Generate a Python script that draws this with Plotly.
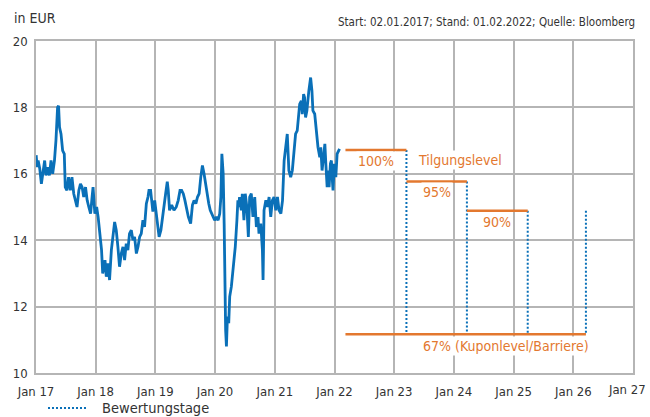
import plotly.graph_objects as go
import pandas as pd

# ---- price series ----
dates = [
"2017-01-02","2017-01-08","2017-01-14","2017-01-24","2017-02-03","2017-02-13","2017-02-23","2017-03-03",
"2017-03-13","2017-03-24","2017-04-03","2017-04-13","2017-04-24","2017-05-03","2017-05-13","2017-05-19",
"2017-05-25","2017-06-03","2017-06-13","2017-06-23","2017-06-29","2017-07-09","2017-07-19","2017-07-30",
"2017-08-09","2017-08-20","2017-08-30","2017-09-09","2017-09-20","2017-09-30","2017-10-10","2017-10-20",
"2017-10-31","2017-11-10","2017-11-20","2017-12-01","2017-12-10","2017-12-16","2017-12-27","2018-01-07",
"2018-01-16","2018-01-27","2018-02-06","2018-02-13","2018-02-27","2018-03-07","2018-03-17","2018-03-27",
"2018-04-07","2018-04-27","2018-05-07","2018-05-17","2018-05-27","2018-06-07","2018-06-17","2018-06-27",
"2018-07-07","2018-07-17","2018-07-27","2018-08-07","2018-08-17","2018-08-27","2018-09-07","2018-09-17",
"2018-09-27","2018-10-07","2018-10-17","2018-10-27","2018-11-07","2018-11-17","2018-11-23","2018-12-03",
"2018-12-09","2018-12-17","2018-12-28","2019-01-08","2019-01-18","2019-01-24","2019-02-04","2019-02-14",
"2019-02-24","2019-03-05","2019-03-15","2019-03-21","2019-03-29","2019-04-11","2019-04-25","2019-05-09",
"2019-05-21","2019-06-01","2019-06-11","2019-06-21","2019-07-01","2019-07-11","2019-07-22","2019-08-05",
"2019-08-16","2019-08-26","2019-09-06","2019-09-16","2019-09-26","2019-10-06","2019-10-16","2019-10-26",
"2019-11-06","2019-11-15","2019-11-24","2019-12-03","2019-12-12","2019-12-21","2019-12-30","2020-01-10",
"2020-01-20","2020-01-30","2020-02-06","2020-02-12","2020-02-20","2020-02-26","2020-03-02","2020-03-06",
"2020-03-11","2020-03-17","2020-03-25","2020-03-31","2020-04-10","2020-04-20","2020-04-26","2020-05-04",
"2020-05-14","2020-05-20","2020-05-26","2020-05-30","2020-06-10","2020-06-16","2020-06-26","2020-07-04",
"2020-07-14","2020-07-23","2020-07-31","2020-08-10","2020-08-20","2020-08-31","2020-09-10","2020-09-20",
"2020-09-26","2020-10-07","2020-10-17","2020-10-21","2020-10-27","2020-11-07","2020-11-17","2020-11-27",
"2020-12-07","2020-12-17","2020-12-27","2021-01-07","2021-01-17","2021-01-27","2021-02-07","2021-02-17",
"2021-02-27","2021-03-08","2021-03-18","2021-03-28","2021-04-08","2021-04-18","2021-04-28","2021-05-08",
"2021-05-18","2021-05-28","2021-06-02","2021-06-12","2021-06-18","2021-06-26","2021-07-02","2021-07-08",
"2021-07-16","2021-07-28","2021-08-08","2021-08-16","2021-08-22","2021-09-02","2021-09-13","2021-09-22",
"2021-10-03","2021-10-09","2021-10-17","2021-10-27","2021-11-03","2021-11-09","2021-11-17","2021-11-23",
"2021-11-29","2021-12-07","2021-12-13","2021-12-19","2021-12-23","2021-12-31","2022-01-09","2022-01-17",
"2022-02-01",
]
prices = [
16.56,16.2,16.4,16.15,15.7,16.1,16.4,15.95,
16.2,15.95,16.4,16.0,16.4,17.0,18.0,18.05,
17.4,17.2,16.7,16.6,15.6,15.5,15.9,15.5,
15.9,15.4,15.2,15.0,15.5,15.7,15.6,15.3,
15.6,15.2,15.0,14.8,15.3,15.6,14.8,15.0,
14.7,14.2,13.7,13.0,13.4,12.9,13.3,12.8,
13.7,14.55,14.3,13.8,13.2,13.6,13.8,13.4,
13.9,13.7,14.2,14.3,14.0,14.1,13.6,13.8,
14.1,14.2,14.6,14.4,15.1,15.3,15.5,15.5,
15.27,14.86,15.2,14.8,14.4,14.1,14.3,14.7,
15.2,15.4,15.76,15.5,14.9,15.06,14.9,15.0,
15.2,15.5,15.5,15.4,15.2,14.9,14.7,14.5,
15.06,15.2,15.1,15.3,15.4,15.9,16.25,16.0,
15.6,15.3,15.1,14.9,14.8,14.65,14.6,14.7,
14.6,14.8,15.3,16.6,16.0,14.5,12.5,11.3,
10.8,11.7,11.5,12.3,12.6,13.1,13.6,13.8,
14.6,15.2,15.0,15.3,14.9,15.4,14.6,15.4,
15.0,14.1,15.3,15.4,14.7,15.3,14.4,14.7,
14.2,14.5,13.7,12.8,14.9,15.2,15.0,15.3,
14.7,15.2,15.3,14.9,15.3,14.9,14.8,15.2,
16.4,16.8,17.2,16.1,15.9,16.1,16.7,17.2,
17.3,17.9,18.1,18.2,17.8,18.4,18.3,17.7,
17.9,18.5,18.9,18.5,17.9,17.8,17.1,16.8,
16.5,16.8,16.1,16.7,16.9,16.3,15.6,16.1,
15.6,16.3,16.4,15.8,15.5,16.3,15.9,16.6,
16.75,
]

# ---- product structure ----
start_date = "2022-03-09"
obs_dates = ["2023-03-17", "2024-03-21", "2025-03-28", "2026-03-19"]
redemption_levels = [16.72, 15.77, 14.89]          # 100 %, 95 %, 90 %
redemption_labels = ["100%", "95%", "90%"]
obs_tops = [16.72, 15.77, 14.89, 14.89]
barrier = 11.17
barrier_label = "67% (Kuponlevel/Barriere)"
legend_label = "Bewertungstage"

x_ticks = ["2017-01-01","2018-01-01","2019-01-01","2020-01-01","2021-01-01","2022-01-01",
           "2023-01-01","2024-01-01","2025-01-01","2026-01-01","2027-01-01"]
x_ticktext = ["Jan 17","Jan 18","Jan 19","Jan 20","Jan 21","Jan 22",
              "Jan 23","Jan 24","Jan 25","Jan 26","Jan 27"]
y_ticks = [10, 12, 14, 16, 18, 20]

BLUE = "#0a70b8"
ORANGE = "#e3782f"
GRID = "#b5b5b5"
TEXT = "#333333"
FONT = "DejaVu Sans Condensed, Liberation Sans Narrow, sans-serif"

fig = go.Figure()

# observation (valuation) day lines
vx, vy = [], []
for d, top in zip(obs_dates, obs_tops):
    vx += [d, d, None]
    vy += [top, barrier, None]
fig.add_trace(go.Scatter(x=vx, y=vy, mode="lines", name=legend_label,
                         line=dict(color=BLUE, width=2, dash="2px,2px"),
                         showlegend=False, hoverinfo="skip"))

# redemption level steps
seg_starts = [start_date] + obs_dates[:2]
seg_ends = obs_dates[:3]
ox, oy = [], []
for s, e, lv in zip(seg_starts, seg_ends, redemption_levels):
    ox += [s, e, None]
    oy += [lv, lv, None]
fig.add_trace(go.Scatter(x=ox, y=oy, mode="lines", line=dict(color=ORANGE, width=2.5),
                         showlegend=False, hoverinfo="skip"))
# barrier line
fig.add_trace(go.Scatter(x=[start_date, obs_dates[-1]], y=[barrier, barrier], mode="lines",
                         line=dict(color=ORANGE, width=2.5), showlegend=False, hoverinfo="skip"))

# price line
fig.add_trace(go.Scatter(x=dates, y=prices, mode="lines", line=dict(color=BLUE, width=2.8),
                         showlegend=False))

# labels
for s, e, lv, lab in zip(seg_starts, seg_ends, redemption_levels, redemption_labels):
    mid = pd.Timestamp(s) + (pd.Timestamp(e) - pd.Timestamp(s)) / 2
    fig.add_annotation(x=mid, y=lv, yshift=-11, text=lab, showarrow=False,
                       bgcolor="white", font=dict(color=ORANGE, size=14, family=FONT))
fig.add_annotation(x="2024-02-05", y=redemption_levels[0], yshift=-10, text="Tilgungslevel",
                   showarrow=False, bgcolor="white", font=dict(color=ORANGE, size=14, family=FONT))
fig.add_annotation(x="2024-11-15", y=barrier, yshift=-12, text=barrier_label,
                   showarrow=False, bgcolor="white", font=dict(color=ORANGE, size=14, family=FONT))

# header texts
fig.add_annotation(xref="paper", yref="paper", x=-0.04, y=1.0, yshift=23, xanchor="left",
                   yanchor="middle", text="in EUR", showarrow=False,
                   font=dict(color=TEXT, size=14, family=FONT))
fig.add_annotation(xref="paper", yref="paper", x=1.007, y=1.0, yshift=19, xanchor="right",
                   yanchor="middle", text="Start: 02.01.2017; Stand: 01.02.2022; Quelle: Bloomberg",
                   showarrow=False, font=dict(color=TEXT, size=11.5, family=FONT))

# last x tick label placed inside the page
fig.add_annotation(xref="paper", yref="paper", x=0.99, y=0, yshift=-16, xanchor="center",
                   yanchor="middle", text=x_ticktext[-1], showarrow=False,
                   font=dict(color=TEXT, size=13, family=FONT))

# manual legend
fig.add_shape(type="line", xref="paper", yref="paper", x0=0.0201, x1=0.0871, y0=-0.1054, y1=-0.1054,
              line=dict(color=BLUE, width=2, dash="2px,2px"))
fig.add_annotation(xref="paper", yref="paper", x=0.1072, y=-0.1054, xanchor="left", yanchor="middle",
                   text=legend_label, showarrow=False, font=dict(color=TEXT, size=14.5, family=FONT))

fig.update_xaxes(type="date", range=["2017-01-01", "2027-01-01"], tickvals=x_ticks,
                 ticktext=x_ticktext[:-1] + [""], showgrid=True, gridcolor=GRID, gridwidth=1.5,
                 showline=True, linecolor=GRID, linewidth=1.5, mirror=True,
                 ticks="outside", ticklen=6, tickcolor="rgba(0,0,0,0)", automargin=False,
                 tickfont=dict(color=TEXT, size=13, family=FONT), zeroline=False)
fig.update_yaxes(range=[10, 20], tickvals=y_ticks, showgrid=True, gridcolor=GRID, gridwidth=1.5,
                 showline=True, linecolor=GRID, linewidth=1.5, mirror=True,
                 ticks="outside", ticklen=4, tickcolor="rgba(0,0,0,0)", automargin=False,
                 tickfont=dict(color=TEXT, size=13, family=FONT), zeroline=False)

fig.update_layout(width=650, height=417, margin=dict(l=36, r=17, t=41, b=44),
                  paper_bgcolor="white", plot_bgcolor="white", showlegend=False,
                  font=dict(family=FONT, color=TEXT))

fig.write_html("out.html", config={"displayModeBar": False},
               post_script="document.body.style.margin='0px';")
